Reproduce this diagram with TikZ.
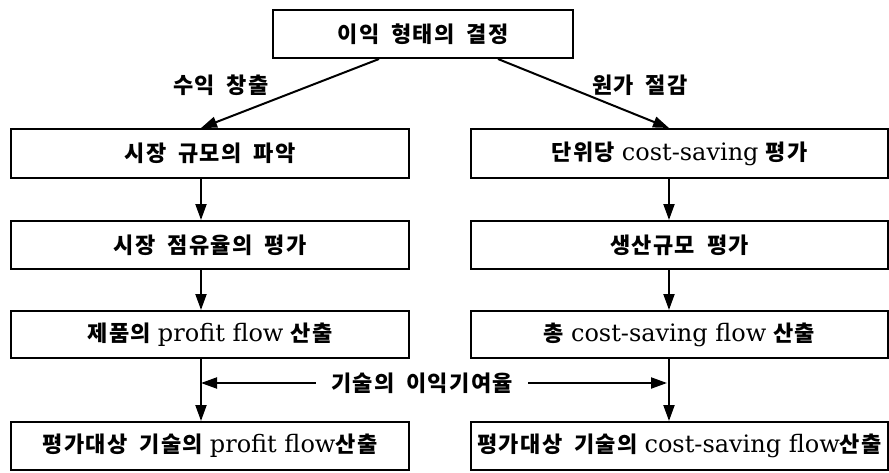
\documentclass[tikz,border=0pt]{standalone}
\usepackage{fontspec}
\setmainfont{DejaVu Serif}
\newfontfamily\kr{Noto Sans CJK KR}[LetterSpace=6]
\usetikzlibrary{arrows.meta}
\newcommand\K[1]{{\kr\bfseries\spaceskip=12pt #1}}
\newcommand\LT[1]{{\fontsize{24}{26}\selectfont #1}}
\begin{document}
\begin{tikzpicture}[x=1pt,y=-1pt,
  box/.style={draw, line width=2pt, inner sep=0pt, anchor=north west, font=\fontsize{22}{24}\selectfont},
  arr/.style={line width=2pt, -{Triangle[length=16pt,width=11pt]}},
  lab/.style={inner sep=0pt, font=\fontsize{22}{24}\selectfont}]
\fill[white] (0,0) rectangle (889,472);
\useasboundingbox (0,0) rectangle (889,472);
% top
\node[box, minimum width=300pt, minimum height=48pt] (top) at (272,9) {\K{이익 형태의 결정}};
% left column
\node[box, minimum width=398pt, minimum height=49pt] (l1) at (10,128) {\K{시장 규모의 파악}};
\node[box, minimum width=398pt, minimum height=48pt] (l2) at (10,220) {\K{시장 점유율의 평가}};
\node[box, minimum width=398pt, minimum height=47pt] (l3) at (10,310) {\K{제품의} \LT{profit flow} \K{산출}};
\node[box, minimum width=398pt, minimum height=48pt] (l4) at (10,421) {\K{평가대상 기술의} \LT{profit flow}\K{산출}};
% right column
\node[box, minimum width=417pt, minimum height=49pt] (r1) at (470,128) {\K{단위당} \LT{cost-saving} \K{평가}};
\node[box, minimum width=417pt, minimum height=48pt] (r2) at (470,220) {\K{생산규모 평가}};
\node[box, minimum width=417pt, minimum height=47pt] (r3) at (470,310) {\K{총} \LT{cost-saving flow} \K{산출}};
\node[box, minimum width=417pt, minimum height=48pt] (r4) at (470,421) {\K{평가대상 기술의} \LT{cost-saving flow}\K{산출}};
% labels
\node[lab] (sl) at (221,85) {\K{수익 창출}};
\node[lab] (sr) at (640,85) {\K{원가 절감}};
\node[lab, inner xsep=15pt] (mid) at (422,383) {\K{기술의 이익기여율}};
\coordinate (la) at (201,383);
\coordinate (ra) at (667,383);
% arrows
\draw[arr] ([xshift=-44pt]top.south) -- ([xshift=-9pt]l1.north);
\draw[arr] ([xshift=75pt]top.south) -- ([xshift=-10.5pt]r1.north);
\draw[arr] ([xshift=-9pt]l1.south) -- ([xshift=-9pt]l2.north);
\draw[arr] ([xshift=-9pt]l2.south) -- ([xshift=-9pt]l3.north);
\draw[arr] ([xshift=-9pt]l3.south) -- ([xshift=-9pt]l4.north);
\draw[arr] ([xshift=-10.5pt]r1.south) -- ([xshift=-10.5pt]r2.north);
\draw[arr] ([xshift=-10.5pt]r2.south) -- ([xshift=-10.5pt]r3.north);
\draw[arr] ([xshift=-10.5pt]r3.south) -- ([xshift=-10.5pt]r4.north);
\draw[arr] (mid.west) -- (la);
\draw[arr] (mid.east) -- (ra);
\end{tikzpicture}
\end{document}
